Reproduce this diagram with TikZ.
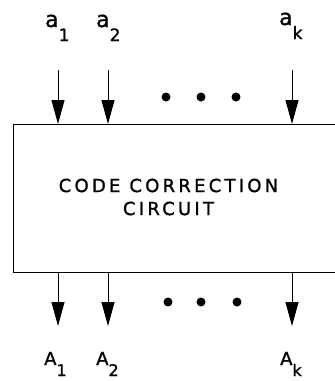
\documentclass[tikz,border=0pt]{standalone}
\usepackage{fontspec}
\setmainfont{DejaVu Sans}[FakeBold=1.2]
\usetikzlibrary{arrows.meta}
\begin{document}
\begin{tikzpicture}[x=1pt,y=-1pt,
  sig/.style={line width=1pt,-{Triangle[width=13pt,length=24pt]}},
  lbl/.style={inner sep=0pt,anchor=base west},
  dotc/.style={circle,fill=black,inner sep=0pt,minimum size=9pt}]
\newcommand\lowa[2]{{\fontsize{22}{22}\selectfont a}\raisebox{-#2pt}{\fontsize{17}{17}\selectfont #1}}
\newcommand\lowA[2]{{\fontsize{18}{18}\selectfont A}\raisebox{-#2pt}{\fontsize{16}{16}\selectfont #1}}
\useasboundingbox (0,0) rectangle (335,381);
\clip (0,0) rectangle (335,381);
\node[draw,line width=1.3pt,minimum width=340pt,minimum height=148pt,anchor=north west,inner sep=0pt] (box) at (13,124) {};
\node[inner sep=0pt,align=center,font=\fontsize{18}{23}\selectfont\addfontfeature{LetterSpace=18}] (t) at (168.5,197) {CODE CORRECTION\\CIRCUIT};
% inputs
\coordinate (i1) at (58,70);
\coordinate (i2) at (108,70);
\coordinate (ik) at (292,70);
\draw[sig] (i1) -- (i1 |- box.north);
\draw[sig] (i2) -- (i2 |- box.north);
\draw[sig] (ik) -- (ik |- box.north);
\node[lbl] (la1) at (45,27) {\lowa{1}{14}};
\node[lbl] (la2) at (96,27) {\lowa{2}{14}};
\node[lbl] (lak) at (279,25) {\lowa{k}{14}};
\node[dotc] (d1) at (166,97) {};
\node[dotc] (d2) at (201,97) {};
\node[dotc] (d3) at (236,97) {};
% outputs
\coordinate (o1) at (58,326);
\coordinate (o2) at (108,326);
\coordinate (ok) at (292,326);
\draw[sig] (o1 |- box.south) -- (o1);
\draw[sig] (o2 |- box.south) -- (o2);
\draw[sig] (ok |- box.south) -- (ok);
\node[dotc] (e1) at (168,302) {};
\node[dotc] (e2) at (201,302) {};
\node[dotc] (e3) at (237,302) {};
\node[lbl] (lA1) at (44,365) {\lowA{1}{11}};
\node[lbl] (lA2) at (96,365) {\lowA{2}{11}};
\node[lbl] (lAk) at (280,365) {\lowA{k}{11}};
\end{tikzpicture}
\end{document}
